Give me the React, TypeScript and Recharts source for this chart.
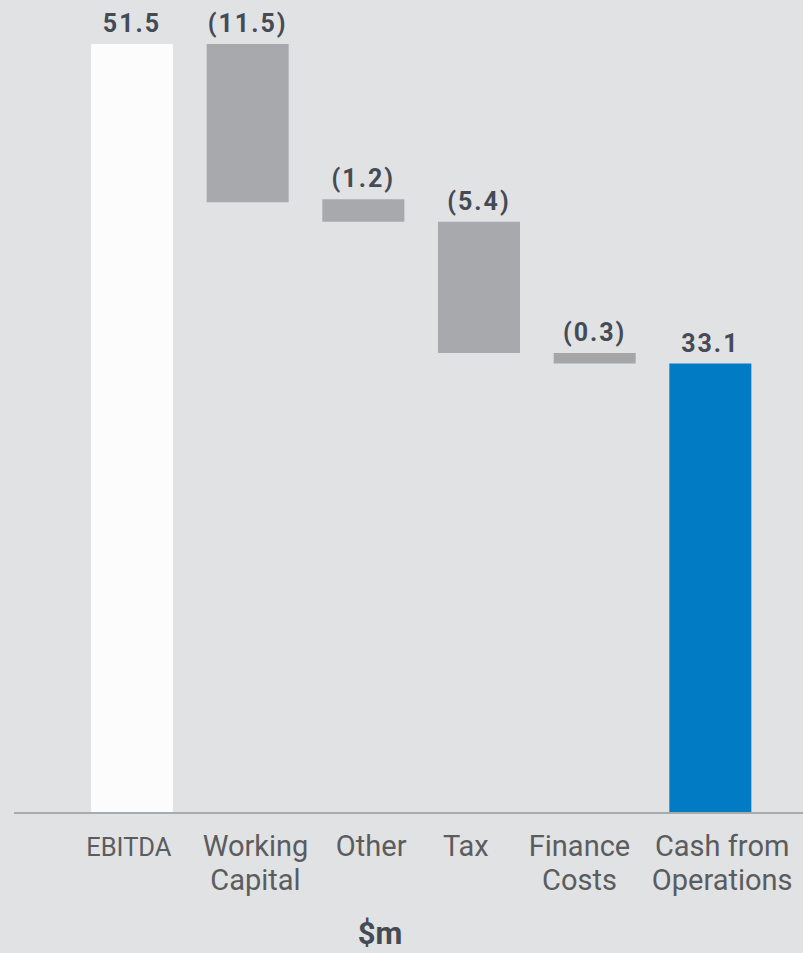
import { BarChart, Bar, XAxis, YAxis, Cell, LabelList } from 'recharts'

// bar extents as drawn (the source chart is not strictly to scale)
const categories = ['EBITDA', 'Working Capital', 'Other', 'Tax', 'Finance Costs', 'Cash from Operations']
const tickLines = [['EBITDA'], ['Working', 'Capital'], ['Other'], ['Tax'], ['Finance', 'Costs'], ['Cash from', 'Operations']]
const barLow = [0, 40.9, 39.6, 30.8, 30.1, 0]
const barHigh = [51.5, 51.5, 41.1, 39.6, 30.8, 30.1]
const valueLabels = ['51.5', '(11.5)', '(1.2)', '(5.4)', '(0.3)', '33.1']
const barColors = ['#fcfcfc', '#a8a9ac', '#a8a9ac', '#a8a9ac', '#a6a6a7', '#007bc4']

// small horizontal nudges for tick text, as in the source layout
const tickNudge = [-3, 8, 8, -13, -15, 12]

const data = categories.map((name, i) => ({
  name,
  range: [barLow[i], barHigh[i]],
  label: valueLabels[i],
}))

function CategoryTick(props: any) {
  const { x, y, payload, index } = props
  const lines = tickLines[index] ?? [payload.value]
  const small = lines.length === 1 && lines[0] === 'EBITDA'
  const cx = x + (tickNudge[index] ?? 0)
  return (
    <text
      x={cx}
      y={y}
      textAnchor="middle"
      fill="#5b5c5e"
      fontFamily="Roboto, sans-serif"
      fontSize={small ? 25.5 : 29}
    >
      {lines.map((l: string, i: number) => (
        <tspan key={i} x={cx} dy={i === 0 ? 35 : 34}>
          {l}
        </tspan>
      ))}
    </text>
  )
}

function ValueLabel(props: any) {
  const { x, y, width, index } = props
  return (
    <text
      x={x + width / 2}
      y={y - 12}
      textAnchor="middle"
      fill="#454b55"
      fontFamily="Roboto, sans-serif"
      fontWeight={700}
      fontSize={25}
      letterSpacing={2}
    >
      {valueLabels[index]}
    </text>
  )
}

export default function App() {
  return (
    <div
      style={{
        position: 'absolute',
        left: 0,
        top: 0,
        width: 803,
        height: 953,
        background: '#e1e2e4',
      }}
    >
      <BarChart
        width={803}
        height={953}
        data={data}
        margin={{ top: 44, right: 0, bottom: 40, left: 14 }}
        barCategoryGap={0}
      >
        <XAxis
          dataKey="name"
          height={100}
          padding={{ left: 60, right: 35 }}
          axisLine={{ stroke: '#a9aaac', strokeWidth: 2 }}
          tickLine={false}
          interval={0}
          tick={<CategoryTick />}
        />
        <YAxis hide domain={[0, 51.5]} />
        <Bar dataKey="range" barSize={82} isAnimationActive={false}>
          {data.map((d, i) => (
            <Cell key={d.name} fill={barColors[i]} />
          ))}
          <LabelList dataKey="label" content={<ValueLabel />} />
        </Bar>
      </BarChart>
      <div
        style={{
          position: 'absolute',
          left: 0,
          width: 760,
          top: 916,
          textAlign: 'center',
          fontFamily: 'Roboto, sans-serif',
          fontWeight: 700,
          fontSize: 31,
          color: '#454b55',
          lineHeight: '36px',
        }}
      >
        $m
      </div>
    </div>
  )
}
